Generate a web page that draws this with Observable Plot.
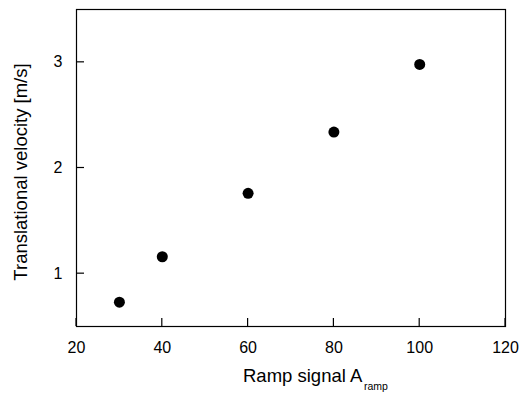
<!DOCTYPE html>
<html>
<head>
<meta charset="utf-8">
<script src="https://cdn.jsdelivr.net/npm/d3@7"></script>
<script src="https://cdn.jsdelivr.net/npm/@observablehq/plot@0.6"></script>
<style>
  html, body { margin: 0; padding: 0; background: #fff; }
  svg { display: block; }
</style>
</head>
<body>
<div id="chart"></div>
<script>
const rampSignal = [30, 40, 60, 80, 100];
const velocity = [0.73, 1.16, 1.76, 2.34, 2.98];
const xTicks = [20, 40, 60, 80, 100, 120];
const yTicks = [1, 2, 3];
const xTitle = "Ramp signal A";
const xTitleSub = "ramp";
const yTitle = "Translational velocity [m/s]";

const data = rampSignal.map((x, i) => ({x, y: velocity[i]}));
const font = "'Liberation Sans', Arial, Helvetica, sans-serif";

const W = 528, H = 403, ML = 76, MR = 23, MT = 9, MB = 77, TICK = 8;

const chart = Plot.plot({
  width: W,
  height: H,
  marginLeft: ML,
  marginRight: MR,
  marginTop: MT,
  marginBottom: MB,
  style: {fontFamily: font, fontSize: "16px", color: "#000", background: "#fff"},
  x: {domain: [20, 120], label: null},
  y: {domain: [0.5, 3.5], label: null},
  marks: [
    Plot.frame({stroke: "#000", strokeWidth: 1.2}),
    Plot.axisX(xTicks, {tickSize: 0, tickPadding: 15, fontSize: 16, tickFormat: d3.format("d"), label: null}),
    Plot.axisY(yTicks, {tickSize: 0, tickPadding: 14, fontSize: 16, tickFormat: d3.format("d"), label: null}),
    Plot.dot(data, {x: "x", y: "y", r: 5.5, fill: "#000", stroke: "none"}),
    Plot.text([xTitle], {frameAnchor: "bottom", textAnchor: "start", dx: -48, dy: 55, fontSize: 18.5, fill: "#000"}),
    Plot.text([xTitleSub], {frameAnchor: "bottom", textAnchor: "start", dx: 73, dy: 63, fontSize: 10.5, fill: "#000"}),
    Plot.text([yTitle], {frameAnchor: "left", rotate: -90, textAnchor: "middle", dx: -55, dy: 4, fontSize: 18.5, fill: "#000"})
  ]
});

// inward tick marks, positioned through Plot's own scales
const sx = chart.scale("x"), sy = chart.scale("y");
const svg = d3.select(chart);
const g = svg.append("g").attr("stroke", "#000").attr("stroke-width", 1.2);
const bottom = H - MB, left = ML;
g.selectAll("line.xt").data(xTicks).join("line")
  .attr("x1", d => sx.apply(d)).attr("x2", d => sx.apply(d))
  .attr("y1", bottom).attr("y2", bottom - TICK);
g.selectAll("line.yt").data(yTicks).join("line")
  .attr("y1", d => sy.apply(d)).attr("y2", d => sy.apply(d))
  .attr("x1", left).attr("x2", left + TICK);

document.getElementById("chart").appendChild(chart);
</script>
</body>
</html>
